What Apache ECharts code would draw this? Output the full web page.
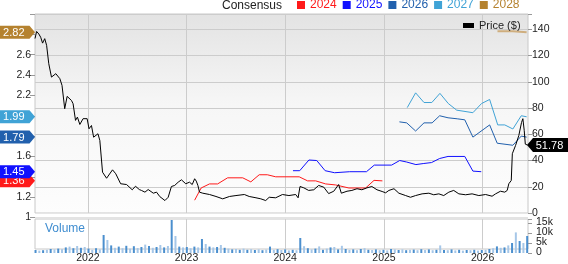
<!DOCTYPE html>
<html><head><meta charset="utf-8">
<script src="https://cdn.jsdelivr.net/npm/echarts@6/dist/echarts.min.js"></script>
<style>html,body{margin:0;padding:0;background:#fff;overflow:hidden}#c{width:568px;height:264px}</style>
</head><body><div id="c"></div>
<script>
const FONT = '"Liberation Sans", Arial, Helvetica, sans-serif';

// ---- tick labels ----
const yearTicks = ['2022', '2023', '2024', '2025', '2026'];
const priceAxisTicks = [0, 20, 40, 60, 80, 100, 120, 140];
const epsAxisLabels = ['1', '1.2', '1.6', '2.2', '2.4', '2.6'];
const volumeAxisTicks = [0, 5, 10, 15];
const volumeAxisLabels = ['0', '5k', '10k', '15k'];
const consensusYears = ['2024', '2025', '2026', '2027', '2028'];
const consensusLast = [1.36, 1.45, 1.79, 1.99, 2.82];
const lastPrice = 51.78;

// ---- price ($) ----
const priceDates = ['2021-06-19','2021-06-25','2021-07-03','2021-07-10','2021-07-17','2021-07-25','2021-08-01','2021-08-09','2021-08-19','2021-09-04','2021-09-19','2021-09-27','2021-10-07','2021-10-16','2021-11-01','2021-11-07','2021-11-16','2021-11-23','2021-12-02','2021-12-14','2021-12-29','2022-01-05','2022-01-14','2022-01-22','2022-02-07','2022-02-14','2022-02-24','2022-03-11','2022-04-02','2022-04-14','2022-05-02','2022-05-24','2022-05-30','2022-06-14','2022-06-26','2022-07-10','2022-07-18','2022-07-31','2022-08-12','2022-08-31','2022-09-12','2022-09-24','2022-10-13','2022-10-25','2022-11-06','2022-11-18','2022-12-01','2022-12-13','2022-12-29','2023-01-12','2023-01-22','2023-01-31','2023-02-06','2023-02-12','2023-02-18','2023-03-02','2023-03-27','2023-04-20','2023-05-15','2023-06-09','2023-07-03','2023-08-03','2023-08-21','2023-09-15','2023-10-03','2023-10-21','2023-11-03','2023-11-27','2023-12-22','2024-01-15','2024-02-09','2024-02-18','2024-02-25','2024-03-10','2024-03-28','2024-04-16','2024-05-04','2024-05-23','2024-06-10','2024-06-29','2024-07-17','2024-07-27','2024-08-17','2024-09-04','2024-09-23','2024-10-11','2024-10-30','2024-11-17','2024-12-06','2024-12-25','2025-01-07','2025-01-19','2025-02-07','2025-02-25','2025-03-22','2025-04-09','2025-04-28','2025-05-22','2025-06-16','2025-07-04','2025-07-23','2025-08-10','2025-08-29','2025-09-16','2025-10-05','2025-10-30','2025-11-23','2025-12-18','2026-01-12','2026-02-05','2026-02-18','2026-03-08','2026-03-24','2026-04-02','2026-04-08','2026-04-17','2026-04-21','2026-05-03','2026-05-15','2026-05-25','2026-05-30','2026-06-04','2026-06-08','2026-06-16'];
const priceValues = [133,138.4,136.5,134,129.5,132.9,127.8,113.8,103.6,106.2,102.4,97.3,79.5,88.9,85.8,83.3,70.6,73.1,67.5,71.9,71.9,64.2,66.7,57.8,60.4,55.3,31.1,26.5,32.9,29.9,22.3,21.7,22.3,17.7,20.4,17.9,17.2,15.9,17.9,15.1,15.9,12.5,9.5,12,20.2,21,23.5,25.3,22.3,23.5,21.7,26.1,24.3,21,15.9,15.1,14.1,12.6,10.8,12.6,13.3,14.1,12.6,11.6,10.8,9.5,12,11.6,14.1,13.3,14.1,11.6,20.2,19.2,17.2,17.7,21,19.7,14.8,16.6,21.7,15.1,16.6,17.2,18.5,17.7,19.2,20.2,17.7,16.4,15.4,17.2,18.5,15.1,13.3,12,13.3,14.6,15.1,13.9,14.6,13.3,15.9,17.2,14.6,13.9,14.6,13.3,14.1,12.8,14.6,16.6,15.9,17.2,22.3,24.8,45.2,51.5,59.1,69,71.9,63,52.5,51.78];

// ---- consensus EPS ----
const eps2024Dates = ['2023-01-31','2023-02-24','2023-03-27','2023-04-26','2023-06-02','2023-07-28','2023-08-27','2023-09-27','2023-10-27','2023-11-27','2024-02-22','2024-03-24','2024-04-23','2024-05-30','2024-07-06','2024-08-24','2024-10-25','2024-11-25','2024-12-26'];
const eps2024Values = [1.17,1.29,1.33,1.33,1.39,1.39,1.35,1.42,1.42,1.40,1.40,1.36,1.36,1.33,1.32,1.29,1.29,1.365,1.36];
const eps2025Dates = ['2024-01-30','2024-02-24','2024-03-29','2024-04-27','2024-05-28','2024-07-02','2024-08-27','2024-10-28','2024-11-26','2025-01-29','2025-02-28','2025-03-26','2025-04-29','2025-05-26','2025-06-26','2025-07-26','2025-08-26','2025-10-27','2025-11-26','2025-12-27'];
const eps2025Values = [1.46,1.46,1.565,1.56,1.46,1.44,1.45,1.45,1.515,1.515,1.56,1.545,1.52,1.53,1.54,1.58,1.60,1.60,1.456,1.45];
const eps2026Dates = ['2025-02-27','2025-03-26','2025-04-28','2025-05-29','2025-06-28','2025-07-26','2025-08-26','2025-09-29','2025-10-27','2025-11-26','2026-01-27','2026-02-24','2026-04-23','2026-05-24','2026-06-13'];
const eps2026Values = [1.94,1.93,1.85,1.93,1.93,2.00,1.98,1.97,1.96,1.79,1.91,1.73,1.71,1.80,1.79];
const eps2027Dates = ['2025-03-28','2025-04-28','2025-05-29','2025-06-27','2025-07-27','2025-08-27','2025-09-27','2025-11-26','2025-12-28','2026-01-27','2026-02-26','2026-03-24','2026-04-23','2026-05-24','2026-06-13'];
const eps2027Values = [2.08,2.225,2.13,2.13,2.22,2.12,2.055,2.03,2.12,2.16,1.91,1.91,1.87,2.0,1.99];
const eps2028Dates = ['2026-02-25','2026-04-23','2026-06-13'];
const eps2028Values = [2.83,2.83,2.82];

// ---- volume (thousands), one bar every two weeks ----
const volumeStart = '2021-06-21';
const volumeStepDays = 14;
const volumeValues = [1.5,1.2,1.4,1.6,2.0,1.8,2.2,1.9,2.8,3.2,2.4,3.5,2.6,3.0,2.2,1.6,2.4,1.8,9.0,6.5,3.8,2.6,3.2,2.4,3.6,2.2,3.4,2.5,3.0,4.2,3.5,2.6,3.0,4.0,2.8,3.5,16.5,8.5,3.2,2.8,3.0,2.4,3.2,2.8,7.0,4.5,3.2,2.8,3.0,4.0,2.6,2.2,1.8,2.0,1.6,2.2,1.6,1.9,1.5,1.8,1.4,1.7,3.2,1.6,1.9,1.5,1.8,1.3,1.6,1.4,7.5,3.4,2.4,1.8,2.2,3.3,1.6,2.2,2.8,3.0,1.8,3.6,2.0,1.6,1.8,1.4,2.0,2.4,1.6,1.5,1.8,1.4,1.6,1.3,2.0,1.8,1.5,1.8,1.4,1.6,1.7,1.4,1.9,1.5,1.8,1.4,1.6,3.8,1.5,1.4,1.8,1.3,1.6,1.2,1.5,1.4,1.6,1.2,1.5,1.6,2.0,2.4,3.3,2.6,2.8,3.8,5.0,10.3,6.0,5.0,8.5];

// ---- styles ----
const colors = {'2024':'#ff1a1a','2025':'#1010ff','2026':'#2160ad','2027':'#40a3d6','2028':'#b5822f'};
const epsSets = {
  '2024': [eps2024Dates, eps2024Values],
  '2025': [eps2025Dates, eps2025Values],
  '2026': [eps2026Dates, eps2026Values],
  '2027': [eps2027Dates, eps2027Values],
  '2028': [eps2028Dates, eps2028Values]
};
const T = s => Date.parse(s);
const xMin = T('2021-06-19'), xMax = T('2026-06-18');
const yearVals = yearTicks.map(y => Date.UTC(+y, 0, 1));
const DAY = 86400000;

const chart = echarts.init(document.getElementById('c'), null, {renderer: 'canvas'});

function xAxisCfg(gridIndex, showLabels, showSplit) {
  return {
    type: 'value', gridIndex, min: xMin, max: xMax, show: showLabels || showSplit,
    axisLine: {show: false},
    axisTick: {show: false, customValues: yearVals},
    axisLabel: {show: showLabels, customValues: yearVals, margin: 4, fontSize: 10.5, color: '#222', fontFamily: FONT,
      formatter: v => { const d = new Date(v); return (d.getUTCMonth() === 0 && d.getUTCDate() === 1) ? String(d.getUTCFullYear()) : ''; }},
    splitLine: {show: showSplit, lineStyle: {color: '#cccccc', width: 1}}
  };
}

const axisLabelBase = {fontSize: 10.5, color: '#222', fontFamily: FONT, showMinLabel: true, showMaxLabel: true, hideOverlap: false};

const series = [];
consensusYears.forEach(yr => {
  const [ds, vs] = epsSets[yr];
  series.push({
    name: yr, type: 'line', xAxisIndex: 1, yAxisIndex: 1,
    data: ds.map((d, i) => [T(d), vs[i]]),
    symbol: 'none', color: colors[yr], z: 3,
    lineStyle: yr === '2028' ? {color: '#cfae7e', width: 2} : {color: colors[yr], width: 1},
    animation: false
  });
});
series.push({
  name: 'Price ($)', type: 'line', xAxisIndex: 0, yAxisIndex: 0,
  data: priceDates.map((d, i) => [T(d), priceValues[i]]),
  symbol: 'none', color: '#000', lineStyle: {color: '#000', width: 1}, z: 4, animation: false
});
series.push({
  name: 'Volume', type: 'bar', xAxisIndex: 3, yAxisIndex: 2,
  data: volumeValues.map((v, i) => [T(volumeStart) + i * volumeStepDays * DAY, v]),
  barWidth: 2,
  itemStyle: {color: p => (p.dataIndex % 2 === 0 ? '#4b8fce' : '#a6c7e8')},
  animation: false
});

const option = {
  animation: false,
  textStyle: {fontFamily: FONT},
  grid: [
    {left: 35, top: 14, width: 493, height: 199, show: true, borderColor: '#c8c8c8', borderWidth: 1,
     backgroundColor: new echarts.graphic.LinearGradient(0, 0, 0, 1, [
       {offset: 0, color: '#e3e3e3'}, {offset: 0.45, color: '#f6f6f6'}, {offset: 1, color: '#fdfdfd'}])},
    {left: 35, top: 14, width: 493, height: 203.5, show: false},
    {left: 35, top: 219, width: 493, height: 34, show: true, borderColor: '#c8c8c8', borderWidth: 1, backgroundColor: '#ffffff'},
    {left: 35, top: 219, width: 493, height: 34, show: false}
  ],
  xAxis: [xAxisCfg(0, false, true), xAxisCfg(1, false, false), xAxisCfg(2, true, true), xAxisCfg(3, false, false)],
  yAxis: [
    {type: 'value', gridIndex: 0, position: 'right', min: 0, max: 151.7, interval: 20,
     axisLine: {show: false}, axisTick: {show: true, length: 4, lineStyle: {color: '#999'}},
     splitLine: {show: true, lineStyle: {color: '#cccccc'}},
     axisLabel: Object.assign({}, axisLabelBase, {margin: 4,
       formatter: v => priceAxisTicks.indexOf(Math.round(v)) >= 0 && Math.abs(v - Math.round(v)) < 1e-6 ? String(Math.round(v)) : ''})},
    {type: 'value', gridIndex: 1, position: 'left', min: 1, max: 3, interval: 0.2,
     axisLine: {show: false}, axisTick: {show: true, length: 5, lineStyle: {color: '#999'}},
     splitLine: {show: false},
     axisLabel: Object.assign({}, axisLabelBase, {margin: 4,
       formatter: v => { const s = String(+v.toFixed(2)); return epsAxisLabels.indexOf(s) >= 0 ? s : ''; }})},
    {type: 'value', gridIndex: 3, position: 'right', min: 0, max: 17, interval: 5,
     axisLine: {show: false}, axisTick: {show: true, length: 4, lineStyle: {color: '#999'}},
     splitLine: {show: false}, axisLabel: {show: false}},
    {type: 'value', gridIndex: 2, show: false, min: 0, max: 17}
  ],
  legend: [
    {data: consensusYears.map(y => ({name: y, textStyle: {color: colors[y]}})),
     icon: 'rect', itemWidth: 8, itemHeight: 8, itemGap: 6, left: 297, top: -1, padding: 0,
     selectedMode: false, textStyle: {fontSize: 12, fontFamily: FONT}},
    {data: ['Price ($)'], icon: 'rect', itemWidth: 11, itemHeight: 5, left: 463, top: 20, padding: 0,
     selectedMode: false, textStyle: {fontSize: 11, color: '#222', fontFamily: FONT}}
  ],
  series
};
chart.setOption(option);

// badges, volume tick labels and decorations, positioned through the chart's own scales
function yPix(axisIndex, v) {
  let y = chart.convertToPixel({yAxisIndex: axisIndex}, v);
  if (Array.isArray(y)) y = y[1];
  if (!isFinite(y)) y = chart.convertToPixel({yAxisIndex: axisIndex}, v + 1e-9);
  return y;
}
const g = [];
g.push({type: 'rect', shape: {x: 35, y: 213.5, width: 493, height: 5.5}, style: {fill: '#ffffff'}, z: 50, silent: true});
g.push({type: 'rect', shape: {x: 35, y: 217, width: 493, height: 2}, style: {fill: '#e3e3e3'}, z: 50, silent: true});
g.push({type: 'text', x: 222, y: 5.5, style: {text: 'Consensus', fill: '#222', fontSize: 12, fontFamily: FONT, verticalAlign: 'middle', align: 'left'}, z: 50});
g.push({type: 'text', x: 45, y: 229, style: {text: 'Volume', fill: '#3f8dd0', fontSize: 12, fontFamily: FONT, verticalAlign: 'middle', align: 'left'}, z: 50});
volumeAxisTicks.forEach((v, i) => {
  const y = yPix(2, v);
  g.push({type: 'text', x: 536, y: y - 1, zlevel: 1, z: 100,
          style: {text: volumeAxisLabels[i], fill: '#222', fontSize: 10.5, fontFamily: FONT, verticalAlign: 'middle', align: 'left'}});
});
consensusYears.forEach((yr, i) => {
  const y = yPix(1, consensusLast[i]);
  g.push({type: 'polygon', shape: {points: [[0, y - 6.5], [29.5, y - 6.5], [35, y], [29.5, y + 6.5], [0, y + 6.5]]},
          style: {fill: colors[yr]}, z: 60 + i * 2});
  g.push({type: 'text', x: 24.5, y: y + 0.5, style: {text: consensusLast[i].toFixed(2), fill: '#fff', fontSize: 11, fontFamily: FONT, align: 'right', verticalAlign: 'middle'}, z: 61 + i * 2});
});
const py = yPix(0, lastPrice);
g.push({type: 'polygon', shape: {points: [[527, py], [533, py - 7], [568, py - 7], [568, py + 7], [533, py + 7]]}, style: {fill: '#000'}, z: 80});
g.push({type: 'text', x: 549.5, y: py + 0.5, style: {text: lastPrice.toFixed(2), fill: '#fff', fontSize: 11, fontFamily: FONT, align: 'center', verticalAlign: 'middle'}, z: 81});
chart.setOption({graphic: g});
</script></body></html>
